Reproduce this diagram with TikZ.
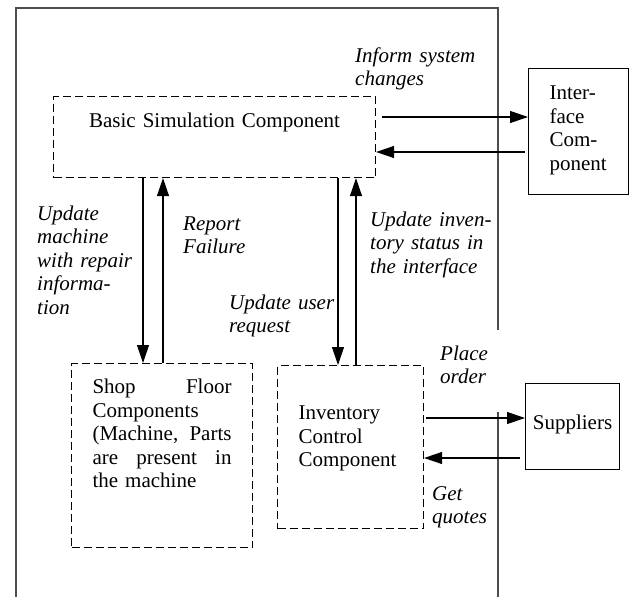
\documentclass[tikz,border=0pt]{standalone}
\usepackage{fontspec}
\setmainfont{Liberation Serif}
\usetikzlibrary{arrows.meta}
\begin{document}
\begin{tikzpicture}[x=1pt,y=-1pt,
  every node/.style={font=\fontsize{21}{23.5}\selectfont, inner sep=0pt},
  dbox/.style={draw, line width=1.1pt, dash pattern=on 8pt off 4pt, anchor=north west},
  sbox/.style={draw, line width=1.1pt, anchor=north west},
  lbl/.style={font=\fontsize{21}{23.5}\selectfont\itshape, anchor=base west, align=left, text width=140pt},
  arr/.style={line width=1.1pt, -{Triangle[length=18pt,width=12pt]}},
  frame/.style={line width=1.5pt, black!70}]
\useasboundingbox (0,0) rectangle (630,597);
% frame
\draw[frame] (16,597) -- (16,8) -- (498,8) -- (498,330);
\draw[frame] (498,412) -- (498,597);
% boxes
\node[dbox, text width=322pt, align=center, text height=31pt, text depth=50pt] (basic) at (53,96) {Basic Simulation Component};
\node[sbox, inner xsep=21pt, text width=58pt, align=left, text height=31pt, text depth=95pt] (interface) at (528,68) {Inter-\\face\\Com-\\ponent};
\node[dbox, inner xsep=21pt, text width=139pt, align=left, text height=30pt, text depth=154pt] (shop) at (71,363) {Shop\hfill Floor\\Components\\(Machine,\hfill Parts\\are\hfill present\hfill in\\the machine};
\node[dbox, inner xsep=21pt, text width=104pt, align=left, text height=54pt, text depth=109pt] (inv) at (277,365) {Inventory\\Control\\Component};
\node[sbox, text width=94pt, align=center, text height=46pt, text depth=40pt] (sup) at (525,383) {Suppliers};
% labels
\node[lbl] (l1) at (355,62) {Inform system\\changes};
\node[lbl] (l2) at (37,220) {Update\\machine\\with repair\\informa-\\tion};
\node[lbl] (l3) at (183,230) {Report\\Failure};
\node[lbl] (l4) at (229,309) {Update user\\request};
\node[lbl] (l5) at (370,226) {Update inven-\\tory status in\\the interface};
\node[lbl] (l6) at (440,360) {Place\\order};
\node[lbl] (l7) at (432,500) {Get\\quotes};
% arrows
\draw[arr] ([xshift=6pt]basic.east |- 0,117) -- (interface.west |- 0,117);
\draw[arr] ([xshift=-3pt]interface.west |- 0,152) -- (basic.east |- 0,152);
\draw[arr] (basic.south -| 143,0) -- (shop.north -| 143,0);
\draw[arr] (shop.north -| 163,0) -- (basic.south -| 163,0);
\draw[arr] (basic.south -| 338,0) -- (inv.north -| 338,0);
\draw[arr] (inv.north -| 356,0) -- (basic.south -| 356,0);
\draw[arr] ([xshift=2pt]inv.east |- 0,418) -- (sup.west |- 0,418);
\draw[arr] ([xshift=-5pt]sup.west |- 0,458) -- (inv.east |- 0,458);
\end{tikzpicture}
\end{document}
